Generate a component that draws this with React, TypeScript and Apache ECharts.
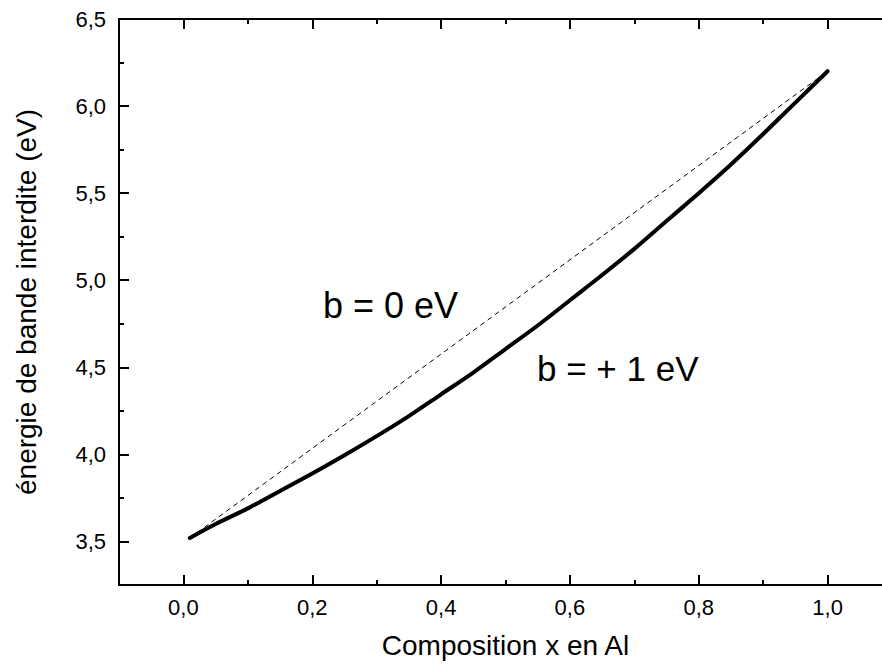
import React, { useEffect, useRef } from "react";
import * as echarts from "echarts";

// Data
const COMPOSITION = [0.01, 0.05, 0.1, 0.15, 0.2, 0.25, 0.3, 0.35, 0.4, 0.45, 0.5, 0.55, 0.6, 0.65, 0.7, 0.75, 0.8, 0.85, 0.9, 0.95, 1.0];
const GAP_B1 = [3.52, 3.60, 3.69, 3.79, 3.89, 3.995, 4.105, 4.22, 4.345, 4.47, 4.605, 4.74, 4.885, 5.03, 5.18, 5.34, 5.50, 5.665, 5.84, 6.02, 6.20];
const LINEAR_X = [0.01, 1.0];
const LINEAR_E = [3.52, 6.2];

// Tick positions (labels on majors)
const X_TICKS = [-0.1, 0, 0.1, 0.2, 0.3, 0.4, 0.5, 0.6, 0.7, 0.8, 0.9, 1.0, 1.1];
const X_LABELS = [0, 0.2, 0.4, 0.6, 0.8, 1.0];
const Y_TICKS = [3.25, 3.5, 3.75, 4.0, 4.25, 4.5, 4.75, 5.0, 5.25, 5.5, 5.75, 6.0, 6.25, 6.5];
const Y_LABELS = [3.5, 4.0, 4.5, 5.0, 5.5, 6.0, 6.5];

const LABEL_B0 = "b = 0 eV";
const LABEL_B1 = "b = + 1 eV";
const X_TITLE = "Composition x en Al";
const Y_TITLE = "énergie de bande interdite (eV)";

const FONT = "'Liberation Sans', Arial, sans-serif";
const fmt = (v: number) => v.toFixed(1).replace(".", ",");

export default function App() {
  const ref = useRef<HTMLDivElement>(null);
  useEffect(() => {
    if (!ref.current) return;
    const chart = echarts.init(ref.current, undefined, { renderer: "svg" });
    const lineStyle = { color: "#000", width: 2 };
    const xCats = X_TICKS.map((v) => v.toFixed(1));
    const yCats = Y_TICKS.map((v) => v.toFixed(2));
    // major ticks at even tenths (odd index), minor at the others
    const xMajor = (i: number) => i % 2 === 1;
    const xMinor = (i: number) => i % 2 === 0;
    const yMajor = (i: number) => i % 2 === 1;
    const yMinor = (i: number) => i % 2 === 0;

    const tickX = (position: string, major: boolean, showLine: boolean) => ({
      type: "category",
      data: xCats,
      boundaryGap: false,
      position,
      axisLine: { show: showLine, onZero: false, lineStyle },
      axisTick: { show: true, inside: true, length: major ? 10 : 5, interval: major ? xMajor : xMinor, lineStyle },
      axisLabel: { show: false },
      splitLine: { show: false },
    });
    const tickY = (position: string, major: boolean, showLine: boolean) => ({
      type: "category",
      data: yCats,
      boundaryGap: false,
      position,
      axisLine: { show: showLine, onZero: false, lineStyle },
      axisTick: { show: true, inside: true, length: major ? 10 : 5, interval: major ? yMajor : yMinor, lineStyle },
      axisLabel: { show: false },
      splitLine: { show: false },
    });

    const xAxis = [
      {
        type: "value",
        min: -0.1,
        max: 1.1,
        position: "bottom",
        splitLine: { show: false },
        axisLine: { show: false, onZero: false },
        axisTick: { show: false },
        axisLabel: { show: true, customValues: X_LABELS, formatter: fmt, fontSize: 22, color: "#000", fontFamily: FONT, margin: 11 },
        name: X_TITLE,
        nameLocation: "middle",
        nameGap: 46,
        nameTextStyle: { fontSize: 28, color: "#000", fontFamily: FONT },
      },
      tickX("bottom", true, true),
      tickX("bottom", false, false),
      tickX("top", true, true),
      tickX("top", false, false),
    ];
    const yAxis = [
      {
        type: "value",
        min: 3.25,
        max: 6.5,
        position: "left",
        splitLine: { show: false },
        axisLine: { show: false, onZero: false },
        axisTick: { show: false },
        axisLabel: { show: true, customValues: Y_LABELS, formatter: fmt, fontSize: 22, color: "#000", fontFamily: FONT, margin: 13 },
        name: Y_TITLE,
        nameLocation: "middle",
        nameGap: 79,
        nameTextStyle: { fontSize: 28, color: "#000", fontFamily: FONT },
      },
      tickY("left", true, true),
      tickY("left", false, false),
      tickY("right", true, true),
      tickY("right", false, false),
    ];
    chart.setOption({
      animation: false,
      backgroundColor: "#fff",
      grid: { left: 119, top: 19, right: -10, bottom: 81, containLabel: false, outerBoundsMode: "none" },
      xAxis,
      yAxis,
      series: [
        {
          name: "b = 0 eV",
          type: "line",
          xAxisIndex: 0,
          yAxisIndex: 0,
          data: LINEAR_X.map((x, i) => [x, LINEAR_E[i]]),
          symbol: "none",
          lineStyle: { color: "#000", width: 1, type: [5, 4] },
          z: 3,
        },
        {
          name: "b = + 1 eV",
          type: "line",
          xAxisIndex: 0,
          yAxisIndex: 0,
          data: COMPOSITION.map((x, i) => [x, GAP_B1[i]]),
          symbol: "none",
          smooth: 0.3,
          lineStyle: { color: "#000", width: 4, cap: "round" },
          z: 4,
        },
      ],
      graphic: [
        {
          type: "text",
          x: 323,
          y: 305,
          style: { text: LABEL_B0, font: `36px ${FONT}`, fill: "#000", textAlign: "left", textVerticalAlign: "middle" },
        },
        {
          type: "text",
          x: 537,
          y: 368,
          style: { text: LABEL_B1, font: `35px ${FONT}`, fill: "#000", textAlign: "left", textVerticalAlign: "middle" },
        },
      ],
    });
    return () => chart.dispose();
  }, []);
  return (
    <div
      ref={ref}
      style={{ position: "fixed", left: 0, top: 0, width: 882, height: 666, background: "#fff" }}
    />
  );
}
